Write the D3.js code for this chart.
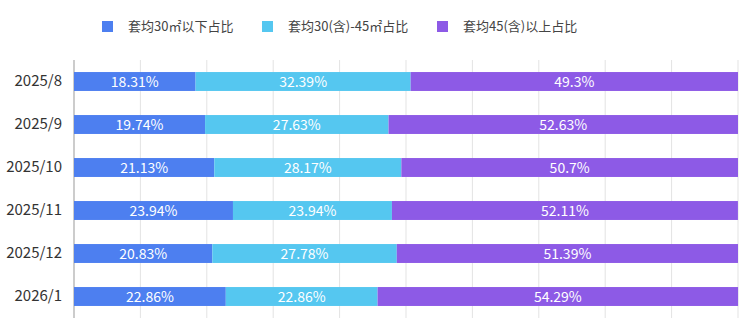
<!DOCTYPE html>
<html><head><meta charset="utf-8">
<script src="https://cdn.jsdelivr.net/npm/d3@7/dist/d3.min.js"></script>
<style>body{margin:0;background:#fff;}svg{display:block;font-family:"Noto Sans CJK SC","Noto Sans",sans-serif;}</style>
</head><body>
<svg id="c" width="750" height="327"></svg>
<script>
const categories = ["2025/8","2025/9","2025/10","2025/11","2025/12","2026/1"];
const seriesNames = ["套均30㎡以下占比","套均30(含)-45㎡占比","套均45(含)以上占比"];
const small = [18.31,19.74,21.13,23.94,20.83,22.86];
const mid = [32.39,27.63,28.17,23.94,27.78,22.86];
const large = [49.3,52.63,50.7,52.11,51.39,54.29];
const colors = ["#4d7ff0","#55c7f0","#8d5ae6"];

const svg = d3.select("#c");
const margin = {left:74, right:12, top:60, bottom:9};
const W = 750, H = 327;
const x = d3.scaleLinear().domain([0,100]).range([margin.left, W-margin.right]);
const y = d3.scaleBand().domain(categories).range([margin.top, H-margin.bottom]).paddingInner(0.56).paddingOuter(0.28);

svg.append("g").selectAll("line").data(d3.range(10,101,10)).join("line")
  .attr("x1",d=>x(d)).attr("x2",d=>x(d)).attr("y1",margin.top).attr("y2",H-margin.bottom)
  .attr("stroke","#e3e3e3").attr("stroke-width",1);
svg.append("line").attr("x1",x(0)).attr("x2",x(0)).attr("y1",margin.top).attr("y2",H-margin.bottom)
  .attr("stroke","#aaa").attr("stroke-width",1.2);

const rows = categories.map((c,i)=>({cat:c, vals:[small[i],mid[i],large[i]]}));
const stackData = rows.map(r=>{let acc=0; return r.vals.map((v,k)=>{const s=acc; acc+=v; return {cat:r.cat,k,v,x0:s,x1:acc};});}).flat();

svg.append("g").selectAll("rect").data(stackData).join("rect")
  .attr("x",d=>x(d.x0)).attr("width",d=>x(d.x1)-x(d.x0))
  .attr("y",d=>y(d.cat)).attr("height",y.bandwidth())
  .attr("fill",d=>colors[d.k]);

svg.append("g").selectAll("text").data(stackData).join("text")
  .attr("x",d=>(x(d.x0)+x(d.x1))/2).attr("y",d=>y(d.cat)+y.bandwidth()/2)
  .attr("dy","0.36em").attr("text-anchor","middle")
  .attr("fill","#fff").attr("font-size",14)
  .text(d=>d.v+"%");

const yAxis = d3.axisLeft(y).tickSize(0).tickPadding(12);
const ga = svg.append("g").attr("transform",`translate(${x(0)},0)`).call(yAxis);
ga.select(".domain").remove();
ga.selectAll("text").attr("font-size",15).attr("fill","#333").attr("font-family",'"Noto Sans CJK SC","Noto Sans",sans-serif');

const legX = [102,262,437];
const lg = svg.append("g").selectAll("g").data(seriesNames).join("g")
  .attr("transform",(d,i)=>`translate(${legX[i]},21)`);
lg.append("rect").attr("width",11).attr("height",11).attr("fill",(d,i)=>colors[i]);
lg.append("text").attr("x",26).attr("y",5.5).attr("dy","0.36em").attr("font-size",13).attr("fill","#444").text(d=>d);
</script>
</body></html>
